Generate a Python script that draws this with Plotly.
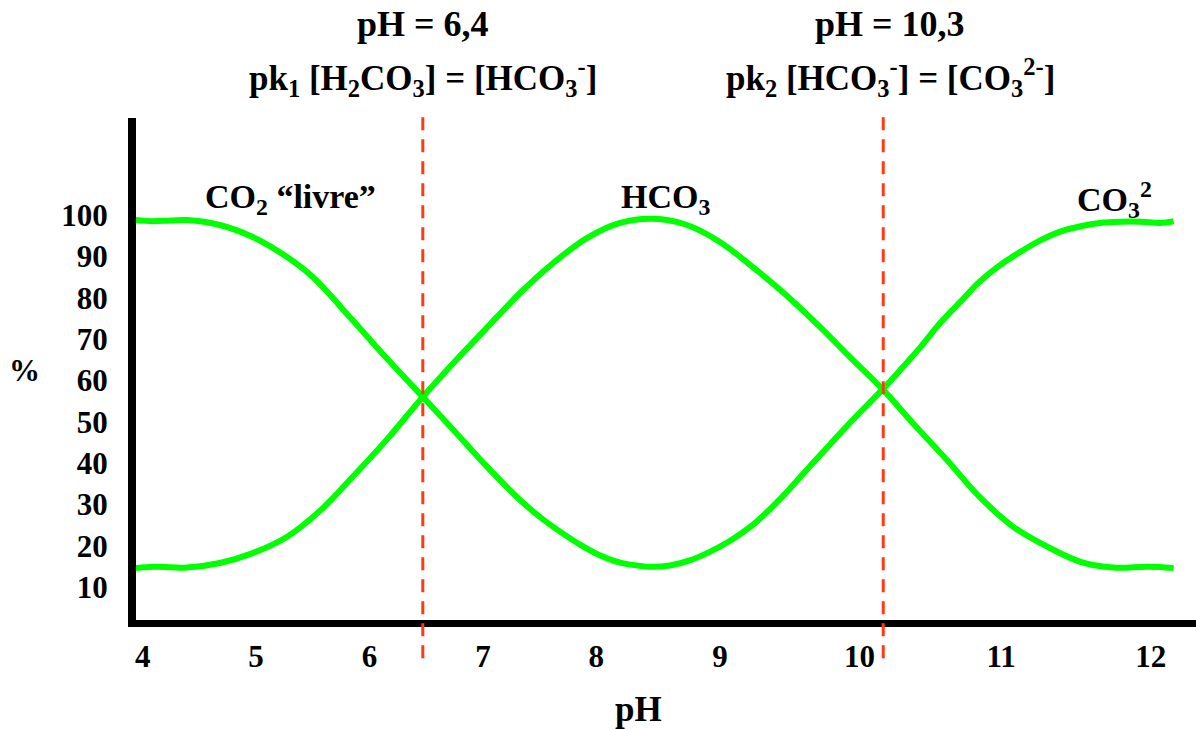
import plotly.graph_objects as go

# pH position (linear axis, 1 unit = spacing of ticks 4..8) and % values
ph_a = [3.94, 4.09, 4.25, 4.39, 4.68, 4.97, 5.27, 5.50, 5.85, 6.15, 6.47, 6.74, 7.04, 7.33,
        7.50, 7.68, 7.86, 8.03, 8.21, 8.39, 8.47, 8.65, 8.83, 9.00, 9.18, 9.36, 9.53, 9.71,
        9.88, 10.06, 10.26, 10.52, 10.68, 10.86, 11.03, 11.21, 11.38, 11.56, 11.74, 11.91,
        12.09, 12.27, 12.44, 12.62, 12.80, 12.97, 13.09]
pct_a = [98.8, 98.5, 98.7, 98.8, 97.6, 94.7, 89.9, 85.0, 74.6, 65.4, 56.0, 48.0, 39.0, 31.0,
         27.0, 23.4, 20.2, 17.7, 15.9, 15.1, 14.9, 15.2, 16.5, 18.5, 21.2, 24.6, 28.8, 33.9,
         39.1, 44.5, 50.4, 57.7, 62.5, 68.1, 73.8, 79.0, 83.9, 87.9, 91.1, 93.8,
         96.0, 97.3, 98.1, 98.4, 98.4, 98.1, 98.5]

ph_b = [3.94, 4.09, 4.25, 4.39, 4.68, 4.97, 5.27, 5.57, 5.85, 6.15, 6.47, 6.74, 7.04, 7.33,
        7.62, 7.92, 8.21, 8.50, 8.80, 9.09, 9.38, 9.68, 9.97, 10.26, 10.53, 10.79, 11.09,
        11.38, 11.68, 11.98, 12.27, 12.56, 12.86, 13.09]
pct_b = [14.6, 14.9, 14.8, 14.7, 15.8, 18.2, 22.1, 28.6, 36.6, 45.6, 56.0, 64.2, 72.9, 81.2,
         88.4, 94.5, 98.1, 99.1, 97.6, 93.5, 87.4, 80.5, 73.0, 65.0, 57.7, 49.7, 40.8,
         31.8, 24.5, 19.7, 16.1, 14.7, 14.9, 14.6]

x_ticks = [4, 5, 6, 7, 8, 9.09, 10.32, 11.57, 12.89]
x_labels = ["4", "5", "6", "7", "8", "9", "10", "11", "12"]
y_ticks = [10, 20, 30, 40, 50, 60, 70, 80, 90, 100]

pk_lines = [6.47, 10.53]
pk_titles = ["pH = 6,4", "pH = 10,3"]
pk_texts = ["pk<sub>1</sub> [H<sub>2</sub>CO<sub>3</sub>] = [HCO<sub>3</sub><sup>-</sup>]",
            "pk<sub>2</sub> [HCO<sub>3</sub><sup>-</sup>] = [CO<sub>3</sub><sup>2-</sup>]"]

species_x = [5.30, 8.61, 12.57]
species = ["CO<sub>2</sub> “livre”", "HCO<sub>3</sub>", "CO<sub>3</sub><sup>2</sup>"]

green = "#00FF00"
red = "#FF3A12"
ff = "Liberation Serif"


def bold(size):
    return dict(family=ff, size=size, color="black", weight="bold")


fig = go.Figure()
for xs, ys in [(ph_a, pct_a), (ph_b, pct_b)]:
    fig.add_trace(go.Scatter(x=xs, y=ys, mode="lines", line=dict(color=green, width=6, shape="spline"),
                             showlegend=False, hoverinfo="skip"))

for xv in pk_lines:
    fig.add_shape(type="line", xref="x", yref="paper", x0=xv, x1=xv, y0=-0.076, y1=1.008,
                  line=dict(color=red, width=3, dash="13px,9px"))

ann = []
for xv, t1, t2, sh in zip(pk_lines, pk_titles, pk_texts, [0, 7]):
    ann.append(dict(x=xv, y=1.187, xref="x", yref="paper", text=t1, showarrow=False, xshift=sh,
                    xanchor="center", yanchor="middle", font=bold(36)))
    ann.append(dict(x=xv, y=1.080, xref="x", yref="paper", text=t2, showarrow=False, xshift=sh,
                    xanchor="center", yanchor="middle", font=bold(35)))
for xv, t in zip(species_x, species):
    ann.append(dict(x=xv, y=0.838, xref="x", yref="paper", text=t, showarrow=False,
                    xanchor="center", yanchor="middle", font=bold(34)))
ann.append(dict(x=-0.105, y=0.498, xref="paper", yref="paper", text="%", showarrow=False,
                xanchor="center", yanchor="middle", font=bold(31)))
ann.append(dict(x=0.4736, y=-0.179, xref="paper", yref="paper", text="pH", showarrow=False,
                xanchor="center", yanchor="middle", font=bold(35)))

fig.update_layout(
    width=1196, height=729,
    margin=dict(l=136, r=0, t=118, b=109),
    paper_bgcolor="white", plot_bgcolor="white",
    annotations=ann,
    xaxis=dict(range=[3.941, 13.288], tickvals=x_ticks, ticktext=x_labels, showgrid=False,
               zeroline=False, showline=True, linecolor="black", linewidth=7, ticks="",
               ticklabelstandoff=3, tickfont=bold(31)),
    yaxis=dict(range=[2.01, 123.49], tickvals=y_ticks, showgrid=False, zeroline=False,
               showline=True, linecolor="black", linewidth=8, ticks="", ticklabelstandoff=14,
               tickfont=bold(31)),
)

fig.write_html("out.html", config={"displayModeBar": False},
               post_script="document.body.style.margin='0px';")
